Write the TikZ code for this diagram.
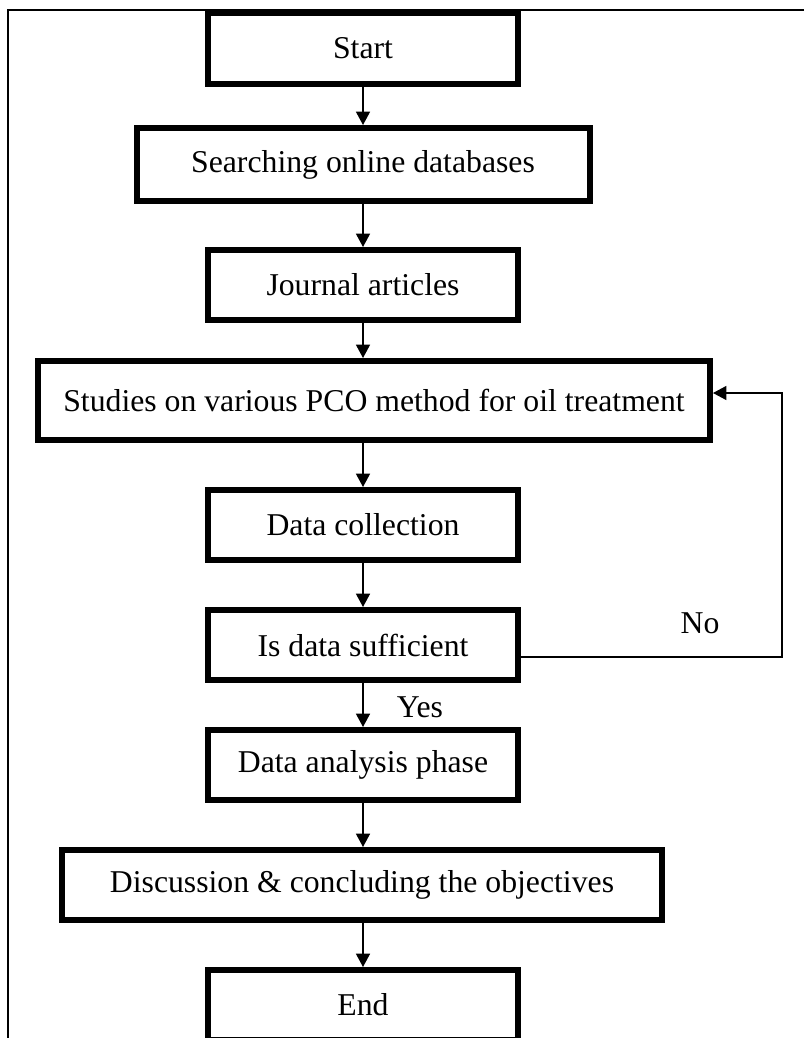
\documentclass[tikz,border=0pt]{standalone}
\usepackage{fontspec}
\setmainfont{Liberation Serif}
\usetikzlibrary{arrows.meta}
\begin{document}
\begin{tikzpicture}[x=0.75pt,y=-0.75pt,
  box/.style={draw, line width=4.5pt, fill=white, minimum width=232.5pt, minimum height=52.5pt, inner sep=0pt,
    font=\fontsize{23.8}{28}\selectfont},
  flow/.style={line width=1.1pt, -{Triangle[length=10pt,width=10.5pt]}},
  fb/.style={line width=0.9pt, -{Triangle[length=10pt,width=10.5pt]}},
  frame/.style={line width=1.6pt},
  lbl/.style={font=\fontsize{23.8}{28}\selectfont, inner sep=0pt}]
\useasboundingbox (0,0) rectangle (804,1038);
\draw[frame] (804,10) -- (8,10) -- (8,1038);
\node[box, minimum height=53.25pt] (start) at (363,48.5) {Start};
\node[box, minimum width=339.75pt, minimum height=54.75pt] (search) at (363,164.5) {Searching online databases};
\node[box] (journal) at (363,285) {Journal articles};
\node[box, minimum width=504pt, minimum height=59.25pt] (studies) at (374,400.5) {Studies on various PCO method for oil treatment};
\node[box] (collect) at (363,525) {Data collection};
\node[box] (suff) at (363,645) {Is data sufficient};
\node[box] (analysis) at (363,765) {Data analysis phase};
\node[box, minimum width=450pt] (discuss) at (362,885) {Discussion \& concluding the objectives};
\node[box] (end) at (363,1005) {End};
\draw[flow] (start) -- (search);
\draw[flow] (search) -- (journal);
\draw[flow] (journal.south) -- (journal.south |- studies.north);
\draw[flow] (studies.south -| collect.north) -- (collect.north);
\draw[flow] (collect) -- (suff);
\draw[flow] (suff) -- (analysis);
\draw[flow] (analysis) -- (discuss.north -| analysis.south);
\draw[flow] (discuss.south -| end.north) -- (end);
\coordinate (fbA) at (782,657);
\coordinate (fbB) at (782,393);
\draw[fb] (suff.east |- fbA) -- (fbA) -- (fbB) -- (studies.east |- fbB);
\node[lbl] (no) at (700,623) {No};
\node[lbl] (yes) at (420,707) {Yes};
\end{tikzpicture}
\end{document}
